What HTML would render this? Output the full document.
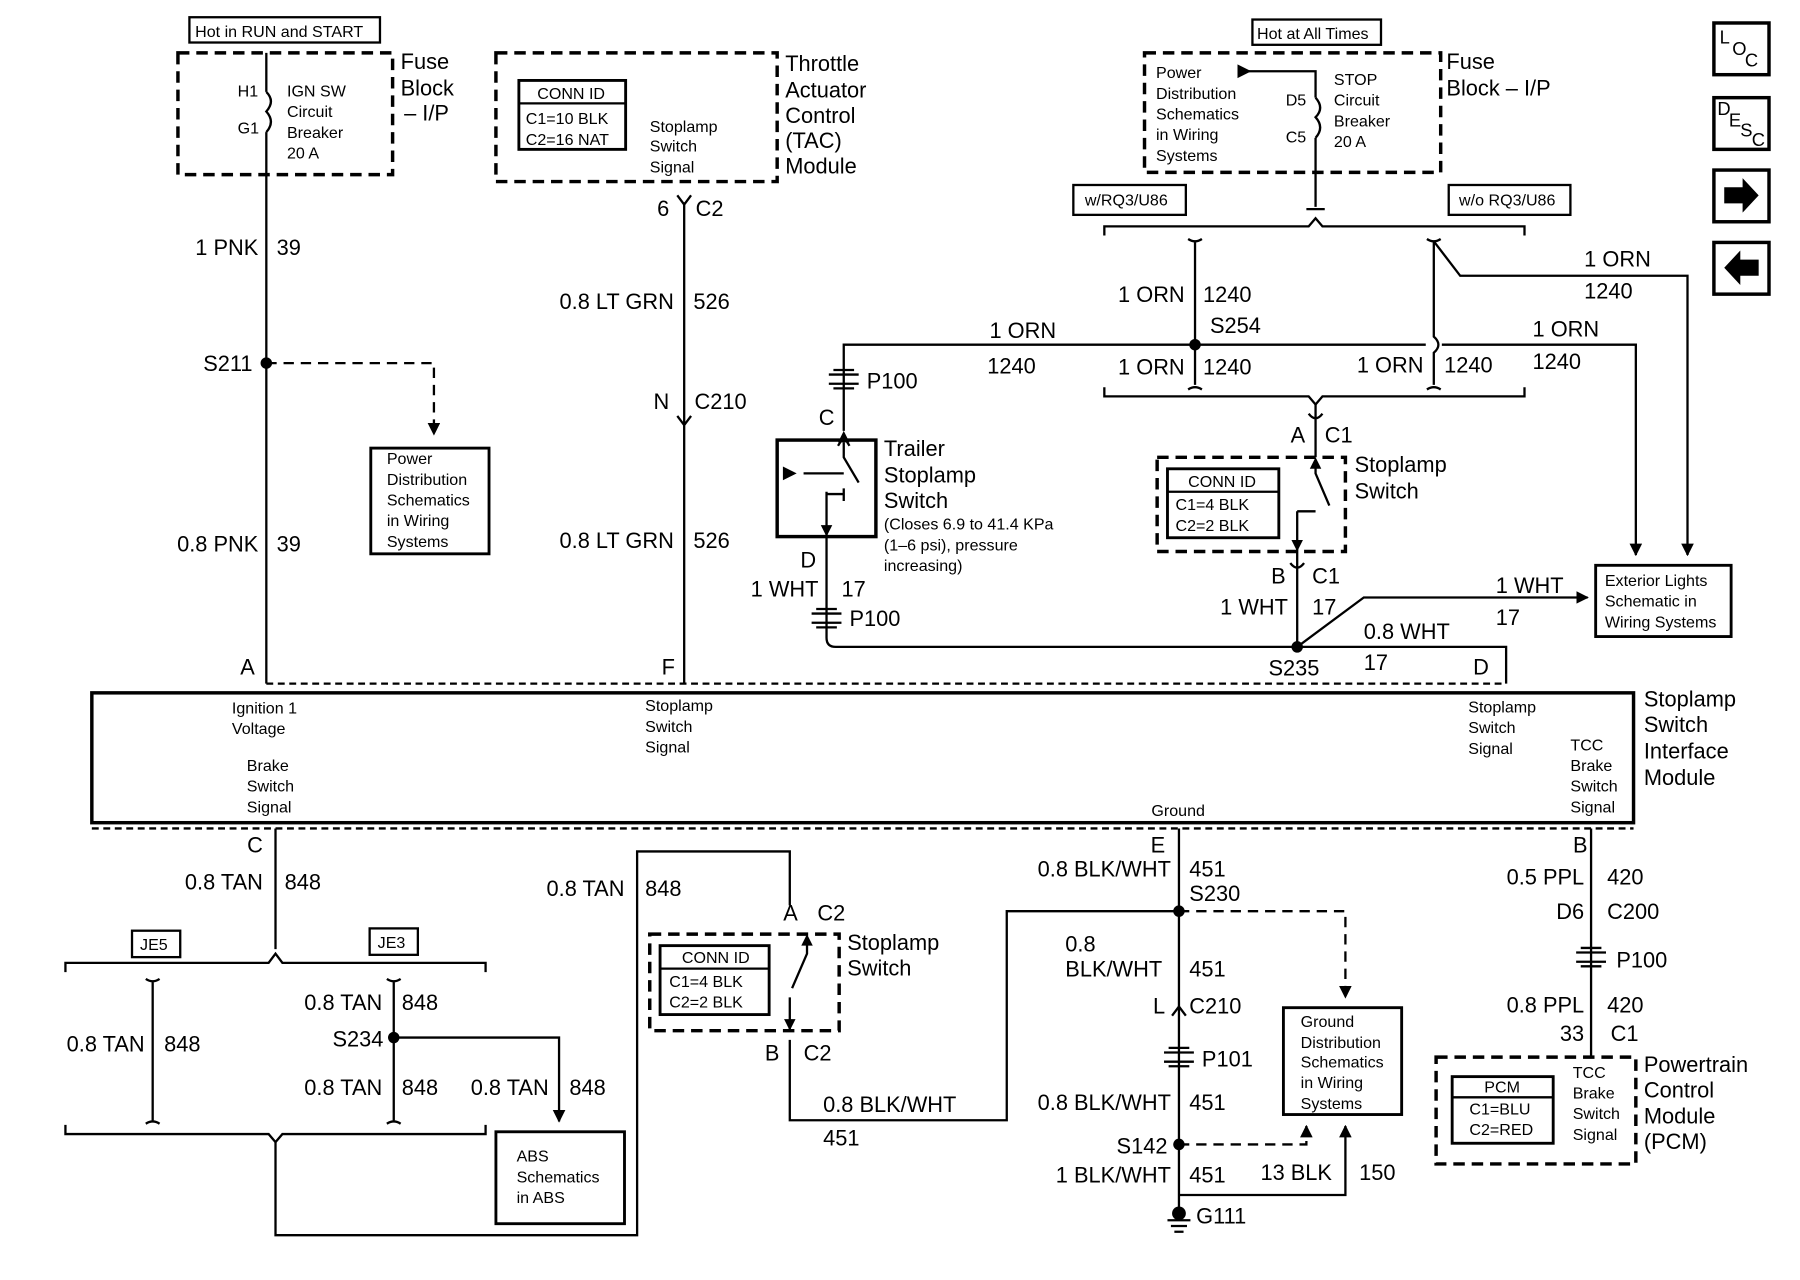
<!DOCTYPE html>
<html><head><meta charset="utf-8"><style>
html,body{margin:0;padding:0;background:#fff}
svg{display:block}
text{font-family:"Liberation Sans",Arial,sans-serif;fill:#000}
.w{font-size:19px}
.s{font-size:14px}
.m{font-size:19px}
</style></head><body>
<svg width="1800" height="1280" viewBox="0 0 1568 1114" preserveAspectRatio="none" xmlns="http://www.w3.org/2000/svg">
<defs>
<marker id="a" viewBox="0 0 10 10" refX="9" refY="5" markerWidth="11" markerHeight="11" orient="auto" markerUnits="userSpaceOnUse"><path d="M0 0 L10 5 L0 10 Z"/></marker></defs>
<g fill="none" stroke="#000" stroke-width="2">
<rect x="165" y="15" width="166" height="22"/>
<rect x="155" y="46" width="187" height="106" stroke-width="3" stroke-dasharray="10,6"/>
<path d="M232 46 V80 M232 115 V595"/>
<path d="M232 80 Q240 88 232 97 Q240 106 232 115"/>
<path d="M232 316 H378 V378" stroke-dasharray="9,6" marker-end="url(#a)"/>
<rect x="323" y="390" width="103" height="92" stroke-width="2.5"/>
<rect x="432" y="46" width="245" height="112" stroke-width="3" stroke-dasharray="10,6"/>
<rect x="452" y="70" width="93" height="60" stroke-width="2.5"/><path d="M452 90 H545"/>
<path d="M596 176 V595 M590 170 L596 178 L602 170 M590 362 L596 370 L602 362"/>
<rect x="1091" y="17" width="112" height="22"/>
<rect x="997" y="46" width="258" height="104" stroke-width="3" stroke-dasharray="10,6"/>
<path d="M1078 62 H1146 V85 M1146 120 V180 M1138 182 H1154"/>
<path d="M1146 85 Q1154 94 1146 102 Q1154 111 1146 120"/>
<rect x="935" y="161" width="98" height="26"/><rect x="1262" y="161" width="106" height="26"/>
<path d="M962 205 V197 H1140 L1146 190 L1152 197 H1328 V205"/>
<path d="M962 337 V345 H1140 L1146 352 L1152 345 H1328 V337"/>
<path d="M1035 208 Q1041 212 1047 208 M1041 210 V335 M1035 339 Q1041 335 1047 339"/>
<path d="M1243 208 Q1249 212 1255 208 M1249 210 V293 Q1257 300 1249 307 V335 M1243 339 Q1249 335 1255 339"/>
<path d="M1249 210 L1272 240 H1470 V483" marker-end="url(#a)"/>
<path d="M735 375 V300 H1242 M1256 300 H1425 V483" marker-end="url(#a)"/>
<path d="M722 326 H748 M722 334 H748 M726 322 H744 M726 338 H744"/>
<path d="M735 380 L730 388 M735 380 L740 388"/>
<rect x="677" y="383" width="86" height="84" stroke-width="3"/>
<path d="M735 385 V398 L748 420 M735 425 V436 M720 428 V467 M720 430 H735 M700 412 H735"/>
<path d="M720 467 V555 Q720 563 728 563 H1312 V595"/>
<path d="M707 534 H733 M707 542 H733 M711 530 H729 M711 546 H729"/>
<path d="M1130 563 L1188 520 H1383" marker-end="url(#a)"/>
<rect x="1390" y="492" width="118" height="62" stroke-width="2.5"/>
<path d="M1146 352 V398 M1140 360 Q1146 368 1152 360"/>
<rect x="1008" y="398" width="164" height="82" stroke-width="3" stroke-dasharray="10,6"/>
<rect x="1017" y="408" width="97" height="60" stroke-width="2.5"/><path d="M1017 428 H1114"/>
<path d="M1146 400 V412 L1158 440 M1130 445 V480 M1130 445 H1146"/>
<path d="M1130 480 V563 M1124 490 Q1130 498 1136 490"/>
<path d="M232 595 H1312 M80 721 H1423" stroke-dasharray="6,4"/>
<rect x="80" y="603" width="1343" height="113" stroke-width="3"/>
<path d="M240 721 V826"/>
<rect x="115" y="810" width="42" height="23"/><rect x="322" y="808" width="42" height="23"/>
<path d="M57 846 V838 H234 L240 830 L246 838 H423 V846"/>
<path d="M57 979 V987 H234 L240 994 L246 987 H423 V979"/>
<path d="M127 852 Q133 856 139 852 M133 854 V975 M127 978 Q133 974 139 978"/>
<path d="M337 852 Q343 856 349 852 M343 854 V975 M337 978 Q343 974 349 978"/>
<path d="M343 903 H487 V976" marker-end="url(#a)"/>
<rect x="432" y="985" width="112" height="80" stroke-width="2.5"/>
<path d="M240 994 V1075 H555 V741 H688 V788"/>
<rect x="566" y="813" width="165" height="84" stroke-width="3" stroke-dasharray="10,6"/>
<rect x="575" y="823" width="95" height="60" stroke-width="2.5"/><path d="M575 843 H670"/>
<path d="M703 815 V830 L690 860 M688 868 V897"/>
<path d="M688 905 V975 H877 V793 H1027"/>
<path d="M1027 721 V1052"/>
<path d="M1027 793 H1172 V868" stroke-dasharray="9,6" marker-end="url(#a)"/>
<path d="M1021 884 L1027 876 L1033 884"/>
<path d="M1014 916 H1040 M1014 924 H1040 M1018 912 H1036 M1018 928 H1036"/>
<path d="M1027 996 H1138 V980" stroke-dasharray="9,6" marker-end="url(#a)"/>
<path d="M1027 1040 H1172 V980" marker-end="url(#a)"/>
<rect x="1118" y="877" width="103" height="93" stroke-width="2.5"/>
<path d="M1017 1062 H1037 M1020 1067 H1034 M1023 1072 H1031"/>
<path d="M1386 721 V920"/>
<path d="M1373 829 H1399 M1373 837 H1399 M1377 825 H1395 M1377 841 H1395"/>
<rect x="1251" y="920" width="174" height="93" stroke-width="3" stroke-dasharray="10,6"/>
<rect x="1265" y="937" width="88" height="58" stroke-width="2.5"/><path d="M1265 955 H1353"/>
<rect x="1493" y="20" width="48" height="45" stroke-width="3"/>
<rect x="1493" y="85" width="48" height="45" stroke-width="3"/>
<rect x="1493" y="148" width="48" height="45" stroke-width="3"/>
<rect x="1493" y="211" width="48" height="45" stroke-width="3"/>
</g>
<g fill="#000">
<circle cx="232" cy="316" r="5"/><circle cx="1041" cy="300" r="5"/><circle cx="1130" cy="563" r="5"/>
<circle cx="343" cy="903" r="5"/><circle cx="1027" cy="793" r="5"/><circle cx="1027" cy="996" r="5"/><circle cx="1027" cy="1056" r="6"/>
<path d="M1078 56 L1090 62 L1078 68Z"/><path d="M682 406 L694 412 L682 418Z"/>
<path d="M735 375 L730 385 L740 385Z"/><path d="M720 467 L715 457 L725 457Z"/>
<path d="M1146 398 L1141 408 L1151 408Z"/><path d="M1130 480 L1125 470 L1135 470Z"/>
<path d="M688 897 L683 887 L693 887Z"/><path d="M703 813 L698 823 L708 823Z"/>
<path d="M1502 163 H1518 V155 L1532 170 L1518 185 V177 H1502Z"/>
<path d="M1532 226 H1516 V218 L1502 233 L1516 248 V240 H1532Z"/>
</g>
<g class="s">
<text x="170" y="32">Hot in RUN and START</text>
<text x="207" y="84">H1</text><text x="207" y="116">G1</text>
<text x="250" y="84">IGN SW</text><text x="250" y="102">Circuit</text><text x="250" y="120">Breaker</text><text x="250" y="138">20 A</text>
<text x="337" y="404">Power</text><text x="337" y="422">Distribution</text><text x="337" y="440">Schematics</text><text x="337" y="458">in Wiring</text><text x="337" y="476">Systems</text>
<text x="468" y="86">CONN ID</text><text x="458" y="108">C1=10 BLK</text><text x="458" y="126">C2=16 NAT</text>
<text x="566" y="115">Stoplamp</text><text x="566" y="132">Switch</text><text x="566" y="150">Signal</text>
<text x="1095" y="34">Hot at All Times</text>
<text x="1007" y="68">Power</text><text x="1007" y="86">Distribution</text><text x="1007" y="104">Schematics</text><text x="1007" y="122">in Wiring</text><text x="1007" y="140">Systems</text>
<text x="1120" y="92">D5</text><text x="1120" y="124">C5</text>
<text x="1162" y="74">STOP</text><text x="1162" y="92">Circuit</text><text x="1162" y="110">Breaker</text><text x="1162" y="128">20 A</text>
<text x="945" y="179">w/RQ3/U86</text><text x="1271" y="179">w/o RQ3/U86</text>
<text x="770" y="461">(Closes 6.9 to 41.4 KPa</text><text x="770" y="479">(1–6 psi), pressure</text><text x="770" y="497">increasing)</text>
<text x="1035" y="424">CONN ID</text><text x="1024" y="444">C1=4 BLK</text><text x="1024" y="462">C2=2 BLK</text>
<text x="1398" y="510">Exterior Lights</text><text x="1398" y="528">Schematic in</text><text x="1398" y="546">Wiring Systems</text>
<text x="202" y="621">Ignition 1</text><text x="202" y="639">Voltage</text>
<text x="215" y="671">Brake</text><text x="215" y="689">Switch</text><text x="215" y="707">Signal</text>
<text x="562" y="619">Stoplamp</text><text x="562" y="637">Switch</text><text x="562" y="655">Signal</text>
<text x="1279" y="620">Stoplamp</text><text x="1279" y="638">Switch</text><text x="1279" y="656">Signal</text>
<text x="1368" y="653">TCC</text><text x="1368" y="671">Brake</text><text x="1368" y="689">Switch</text><text x="1368" y="707">Signal</text>
<text x="1003" y="710">Ground</text>
<text x="122" y="827">JE5</text><text x="329" y="825">JE3</text>
<text x="450" y="1011">ABS</text><text x="450" y="1029">Schematics</text><text x="450" y="1047">in ABS</text>
<text x="594" y="838">CONN ID</text><text x="583" y="859">C1=4 BLK</text><text x="583" y="877">C2=2 BLK</text>
<text x="1133" y="894">Ground</text><text x="1133" y="912">Distribution</text><text x="1133" y="929">Schematics</text><text x="1133" y="947">in Wiring</text><text x="1133" y="965">Systems</text>
<text x="1293" y="951">PCM</text><text x="1280" y="970">C1=BLU</text><text x="1280" y="988">C2=RED</text>
<text x="1370" y="938">TCC</text><text x="1370" y="956">Brake</text><text x="1370" y="974">Switch</text><text x="1370" y="992">Signal</text>
</g>
<g class="m">
<text x="349" y="60">Fuse</text><text x="349" y="83">Block</text><text x="352" y="105">– I/P</text>
<text x="684" y="62">Throttle</text><text x="684" y="85">Actuator</text><text x="684" y="107">Control</text><text x="684" y="129">(TAC)</text><text x="684" y="151">Module</text>
<text x="1260" y="60">Fuse</text><text x="1260" y="83">Block – I/P</text>
<text x="770" y="397">Trailer</text><text x="770" y="420">Stoplamp</text><text x="770" y="442">Switch</text>
<text x="1180" y="411">Stoplamp</text><text x="1180" y="434">Switch</text>
<text x="1432" y="615">Stoplamp</text><text x="1432" y="637">Switch</text><text x="1432" y="660">Interface</text><text x="1432" y="683">Module</text>
<text x="738" y="827">Stoplamp</text><text x="738" y="849">Switch</text>
<text x="1432" y="933">Powertrain</text><text x="1432" y="955">Control</text><text x="1432" y="978">Module</text><text x="1432" y="1000">(PCM)</text>
</g>
<g class="w">
<g text-anchor="end">
<text x="225" y="222">1 PNK</text><text x="220" y="323">S211</text><text x="225" y="480">0.8 PNK</text><text x="222" y="587">A</text>
<text x="583" y="188">6</text><text x="587" y="269">0.8 LT GRN</text><text x="583" y="356">N</text><text x="587" y="477">0.8 LT GRN</text><text x="588" y="587">F</text>
<text x="1032" y="263">1 ORN</text><text x="920" y="294">1 ORN</text><text x="1032" y="326">1 ORN</text><text x="1240" y="324">1 ORN</text>
<text x="727" y="370">C</text><text x="711" y="494">D</text><text x="713" y="519">1 WHT</text>
<text x="1137" y="385">A</text><text x="1120" y="508">B</text><text x="1122" y="535">1 WHT</text>
<text x="1297" y="587">D</text>
<text x="229" y="742">C</text><text x="229" y="774">0.8 TAN</text><text x="126" y="915">0.8 TAN</text><text x="333" y="879">0.8 TAN</text><text x="334" y="911">S234</text><text x="333" y="953">0.8 TAN</text><text x="478" y="953">0.8 TAN</text><text x="544" y="780">0.8 TAN</text>
<text x="695" y="801">A</text><text x="679" y="923">B</text>
<text x="1015" y="742">E</text><text x="1020" y="763">0.8 BLK/WHT</text><text x="1015" y="882">L</text><text x="1020" y="966">0.8 BLK/WHT</text><text x="1017" y="1004">S142</text><text x="1020" y="1029">1 BLK/WHT</text>
<text x="1383" y="742">B</text><text x="1380" y="770">0.5 PPL</text><text x="1380" y="800">D6</text><text x="1380" y="881">0.8 PPL</text><text x="1380" y="906">33</text>
</g>
<text x="241" y="222">39</text><text x="241" y="480">39</text>
<text x="606" y="188">C2</text><text x="604" y="269">526</text><text x="605" y="356">C210</text><text x="604" y="477">526</text>
<text x="1048" y="263">1240</text><text x="1054" y="290">S254</text><text x="860" y="325">1240</text><text x="1048" y="326">1240</text><text x="1258" y="324">1240</text>
<text x="1380" y="232">1 ORN</text><text x="1380" y="260">1240</text><text x="1335" y="293">1 ORN</text><text x="1335" y="321">1240</text>
<text x="755" y="338">P100</text><text x="733" y="519">17</text><text x="740" y="545">P100</text>
<text x="1154" y="385">C1</text><text x="1143" y="508">C1</text><text x="1143" y="535">17</text>
<text x="1303" y="516">1 WHT</text><text x="1303" y="544">17</text><text x="1188" y="556">0.8 WHT</text><text x="1188" y="583">17</text><text x="1105" y="588">S235</text>
<text x="248" y="774">848</text><text x="143" y="915">848</text><text x="350" y="879">848</text><text x="350" y="953">848</text><text x="496" y="953">848</text><text x="562" y="780">848</text>
<text x="712" y="801">C2</text><text x="700" y="923">C2</text><text x="717" y="968">0.8 BLK/WHT</text><text x="717" y="997">451</text>
<text x="1036" y="763">451</text><text x="1036" y="784">S230</text><text x="928" y="828">0.8</text><text x="928" y="850">BLK/WHT</text><text x="1036" y="850">451</text>
<text x="1036" y="882">C210</text><text x="1047" y="928">P101</text><text x="1036" y="966">451</text><text x="1036" y="1029">451</text>
<text x="1098" y="1027">13 BLK</text><text x="1184" y="1027">150</text><text x="1042" y="1065">G111</text>
<text x="1400" y="770">420</text><text x="1400" y="800">C200</text><text x="1408" y="842">P100</text><text x="1400" y="881">420</text><text x="1403" y="906">C1</text>
</g>
<g font-size="16">
<text x="1498" y="38">L</text><text x="1509" y="48">O</text><text x="1520" y="58">C</text>
<text x="1496" y="100">D</text><text x="1506" y="110">E</text><text x="1516" y="119">S</text><text x="1526" y="127">C</text>
</g>
</svg>
</body></html>
